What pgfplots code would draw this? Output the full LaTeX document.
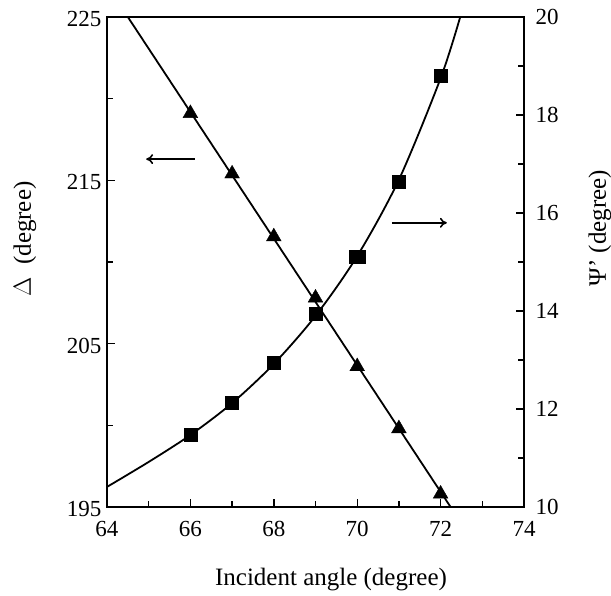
\documentclass[border=0pt]{standalone}
\usepackage{fontspec}
\setmainfont{Liberation Serif}
\usepackage{pgfplots}
\pgfplotsset{compat=1.18}
\usetikzlibrary{arrows.meta}

% measured ellipsometric angles versus angle of incidence
\pgfplotstableread{
x    delta
66   219.1
67   215.4
68   211.55
69   207.8
70   203.6
71   199.8
72   195.8
}\deltadata
\pgfplotstableread{
x      psi
66     11.47
67     12.13
68     12.94
69     13.95
69.96  15.10
70.04  15.10
71     16.64
72     18.80
}\psidata
% fitted curves
\pgfplotstableread{
x      delta
64.5   225
72.24  195
}\deltafit
\pgfplotstableread{
x      psi
64     10.41
65     10.92
66     11.47
67     12.12
68     12.92
69     13.90
70     15.12
71     16.68
72     18.75
72.47  20.00
}\psifit

\pgfplotsset{
  common/.style={
    at={(0,0)}, anchor=south west,
    scale only axis, width=417pt, height=490pt,
    xmin=64, xmax=74,
    tick align=inside,
    major tick length=8pt, minor tick length=6pt,
    every tick/.style={black, line width=1.4pt},
    axis line style={line width=1.6pt},
    ticklabel style={font=\fontsize{23}{23}\selectfont},
    /pgf/number format/assume math mode=true,
  },
}

\begin{document}
\begin{tikzpicture}[x=1pt,y=1pt]
\useasboundingbox (-107,-88) rectangle (504,507);
\begin{axis}[common,
  ymin=195, ymax=225,
  xtick pos=bottom, ytick pos=left,
  xtick={64,66,...,74}, minor xtick={65,67,...,73},
  ytick={195,205,215,225}, minor ytick={200,210,220},
  xticklabel style={yshift=-11pt},
  yticklabel style={xshift=-2pt, yshift=-2pt},
]
\addplot[black, line width=1.8pt] table[x=x, y=delta] {\deltafit};
\addplot[only marks, mark=triangle*, mark size=8.5pt, black] table[x=x, y=delta] {\deltadata};
\draw[-{To[length=7pt,width=10pt]}, line width=1.6pt] (axis cs:66.11,216.3) -- (axis cs:64.94,216.3);
\draw[-{To[length=7pt,width=10pt]}, line width=1.6pt] (axis cs:70.83,212.4) -- (axis cs:72.15,212.4);
\end{axis}
\begin{axis}[common,
  ymin=10, ymax=20,
  hide x axis,
  axis y line*=right,
  ytick={10,12,...,20}, minor ytick={11,13,...,19},
  yticklabel style={xshift=8pt},
]
\addplot[black, line width=1.8pt, smooth, tension=0.5] table[x=x, y=psi] {\psifit};
\addplot[only marks, mark=square*, mark size=6.5pt, black] table[x=x, y=psi] {\psidata};
\end{axis}
\node[font=\fontsize{25}{25}\selectfont] at (224,-73) {Incident angle (degree)};
\node[rotate=90, font=\fontsize{25}{25}\selectfont] at (-82,268) {$\Delta$\ \ (degree)};
\node[rotate=90, font=\fontsize{25}{25}\selectfont] at (493,279) {Ψ' (degree)};
\end{tikzpicture}
\end{document}
